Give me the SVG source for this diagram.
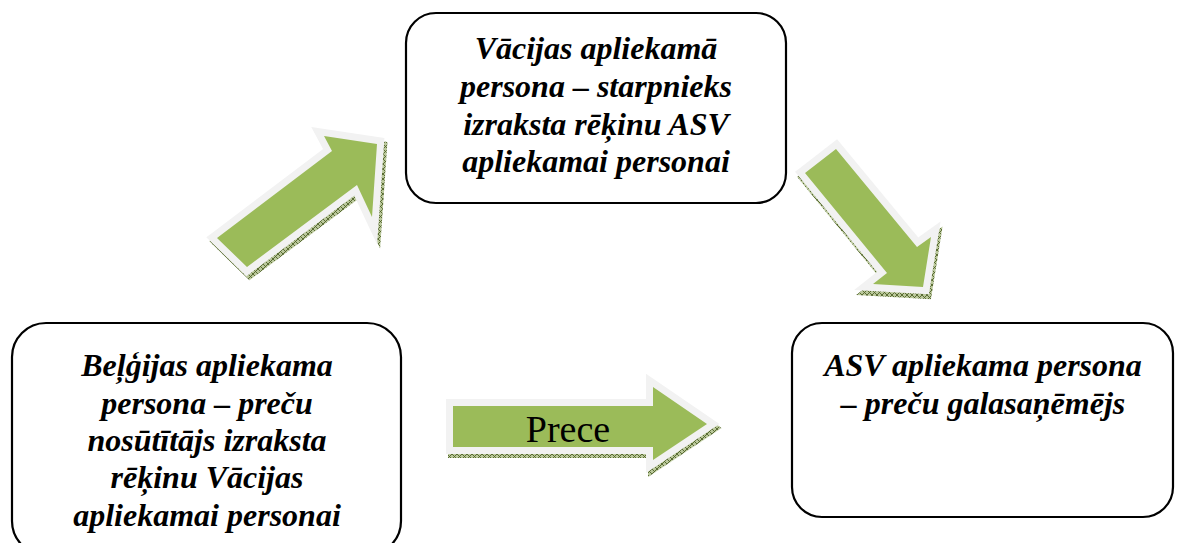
<svg xmlns="http://www.w3.org/2000/svg" width="1177" height="543" viewBox="0 0 1177 543">
  <defs>
    <!-- fine olive crosshatch used for the extruded arrow sides -->
    <pattern id="hatch" width="5" height="5" patternUnits="userSpaceOnUse">
      <rect width="5" height="5" fill="#b9c79a"/>
      <path d="M0 0 L5 5 M5 0 L0 5" stroke="#4f6228" stroke-width="0.9"/>
    </pattern>
    <style>
      .box { fill: #ffffff; stroke: #000000; stroke-width: 2.2; }
      .lbl { font-family: "Liberation Serif", "Times New Roman", serif; font-size: 32px; font-weight: bold; font-style: italic; fill: #000000; text-anchor: middle; }
      .arrow { fill: #9bbb59; stroke: #f2f2f2; stroke-width: 14; stroke-linejoin: miter; paint-order: stroke; }
      .side { fill: url(#hatch); stroke: url(#hatch); stroke-width: 14; stroke-linejoin: miter; }
      .prece { font-family: "Liberation Serif", "Times New Roman", serif; font-size: 38px; fill: #000000; text-anchor: middle; }
    </style>
  </defs>

  <rect width="1177" height="543" fill="#ffffff"/>

  <!-- nodes -->
  <g id="node-de">
    <rect class="box" x="406" y="13" width="380" height="190" rx="30" ry="30"/>
    <text class="lbl" x="596" y="59">Vācijas apliekamā</text>
    <text class="lbl" x="596" y="97">persona – starpnieks</text>
    <text class="lbl" x="596" y="135">izraksta rēķinu ASV</text>
    <text class="lbl" x="596" y="172">apliekamai personai</text>
  </g>

  <g id="node-be">
    <rect class="box" x="12" y="323" width="389" height="232" rx="34" ry="34"/>
    <text class="lbl" x="207" y="376">Beļģijas apliekama</text>
    <text class="lbl" x="207" y="414">persona – preču</text>
    <text class="lbl" x="207" y="451">nosūtītājs izraksta</text>
    <text class="lbl" x="207" y="488">rēķinu Vācijas</text>
    <text class="lbl" x="207" y="526">apliekamai personai</text>
  </g>

  <g id="node-us">
    <rect class="box" x="792" y="323" width="381" height="194" rx="30" ry="30"/>
    <text class="lbl" x="983" y="376">ASV apliekama persona</text>
    <text class="lbl" x="983" y="414">– preču galasaņēmējs</text>
  </g>

  <!-- connectors: block arrows with a hatched extruded side -->
  <g id="connectors">
    <g id="arrow-be-de">
      <polygon class="side" transform="translate(3,4)" points="217,238 332,151 324,136 377,144 372,217 357,185 247,267"/>
      <polygon class="arrow" points="217,238 332,151 324,136 377,144 372,217 357,185 247,267"/>
    </g>
    <g id="arrow-de-us">
      <polygon class="side" transform="translate(2,5)" points="805,173 836,149 917,247 931,237 923,287 873,284 887,273"/>
      <polygon class="arrow" points="805,173 836,149 917,247 931,237 923,287 873,284 887,273"/>
    </g>
    <g id="arrow-be-us">
      <polygon class="side" transform="translate(2,4)" points="453,406 653,406 653,387 707,424 653,460 653,447 453,447"/>
      <polygon class="arrow" points="453,406 653,406 653,387 707,424 653,460 653,447 453,447"/>
      <text class="prece" x="568" y="442">Prece</text>
    </g>
  </g>
</svg>
